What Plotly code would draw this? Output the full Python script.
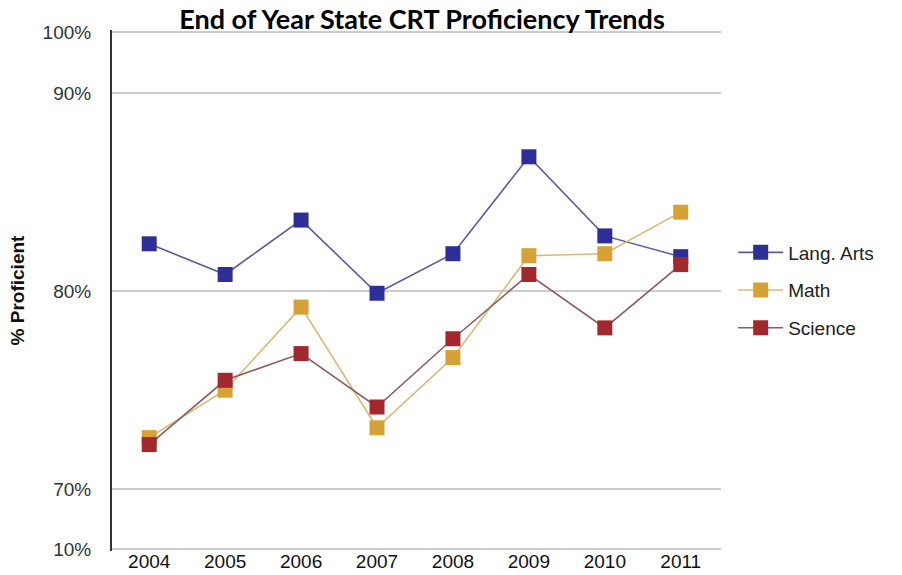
import plotly.graph_objects as go

years = ["2004", "2005", "2006", "2007", "2008", "2009", "2010", "2011"]
lang_arts = [82.4, 80.85, 83.6, 79.9, 81.9, 86.8, 82.8, 81.75]
math = [72.6, 75.0, 79.2, 73.1, 76.65, 81.8, 81.9, 84.0]
science = [72.25, 75.5, 76.85, 74.15, 77.6, 80.85, 78.15, 81.35]

# broken axis: labels 10% and 100% sit at the axis ends
tick_vals = [66.97, 70, 80, 90, 93.11]
tick_text = ["10%", "70%", "80%", "90%", "100%"]

series = [
    ("Lang. Arts", lang_arts, "#2e2f96", "#5b5d98"),
    ("Math", math, "#d6a236", "#d8b877"),
    ("Science", science, "#a1282c", "#8c5c5e"),
]

fig = go.Figure()
for name, vals, mcol, lcol in series:
    fig.add_trace(go.Scatter(
        x=years, y=vals, name=name, mode="lines+markers",
        legendgroup=name,
        line=dict(color=lcol, width=1.6),
        marker=dict(symbol="square", size=15, color=mcol),
    ))

fig.update_layout(
    width=902, height=575,
    margin=dict(l=112, r=181, t=29.7, b=23.7, autoexpand=False),
    paper_bgcolor="white", plot_bgcolor="white",
    title=dict(text="<b>End of Year State CRT Proficiency Trends</b>",
               x=422 / 902, xanchor="center", xref="container",
               y=1 - 20 / 575, yanchor="middle", yref="container",
               font=dict(family="Lato", size=27, color="black")),
    showlegend=True,
    legend=dict(x=1.02, xanchor="left", y=0.5, yanchor="middle",
                font=dict(family="Liberation Sans, Arial", size=19, color="#222"),
                itemwidth=45,
                tracegroupgap=10, bgcolor="rgba(0,0,0,0)"),
    font=dict(family="Liberation Sans, Arial", color="#222"),
)
fig.update_xaxes(
    type="category", range=[-0.49, 7.53], automargin=False,
    showgrid=False, showline=False, zeroline=False,
    tickfont=dict(size=19, color="#111"), ticks="", ticklabelstandoff=-3,
)
fig.update_yaxes(
    range=[66.87, 93.21], tickvals=tick_vals, ticktext=tick_text, automargin=False,
    showgrid=True, gridcolor="#cccccc", gridwidth=1.5,
    showline=True, linecolor="#333333", linewidth=2,
    zeroline=False, ticks="", ticklabelstandoff=15,
    tickfont=dict(size=19, color="#333"),
    title=dict(text="<b>% Proficient</b>", font=dict(size=19, color="#111"), standoff=13),
)

fig.write_html("out.html", config={"displayModeBar": False},
               post_script="document.body.style.margin='0';")
